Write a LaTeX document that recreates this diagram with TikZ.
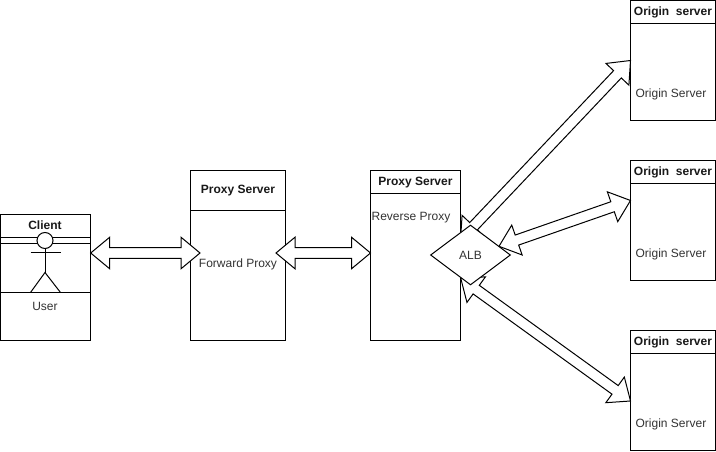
\documentclass[tikz,border=0pt]{standalone}
\usepackage{fontspec}
\setmainfont{Liberation Sans}
\usetikzlibrary{calc,shapes.geometric}
\tikzset{
  box/.style={draw=black,fill=white,line width=1pt,minimum width=0pt},
  lbl/.style={font=\fontsize{12}{14}\selectfont,text=black!80,inner sep=0pt},
  hdr/.style={font=\fontsize{12}{14}\selectfont\bfseries,text=black!90,inner sep=0pt},
  blockarrow/.style={draw=black,fill=white,line width=1pt,line join=miter},
  stick/.style={draw=black,line width=1pt}
}
\newcommand{\blockarr}[2]{%
  \draw[blockarrow] (#1)
   -- ($(#1)!19pt!(#2)!15.8pt!90:(#2)$)
   -- ($(#1)!19pt!(#2)!5.3pt!90:(#2)$)
   -- ($(#2)!19pt!(#1)!5.3pt!-90:(#1)$)
   -- ($(#2)!19pt!(#1)!15.8pt!-90:(#1)$)
   -- (#2)
   -- ($(#2)!19pt!(#1)!15.8pt!90:(#1)$)
   -- ($(#2)!19pt!(#1)!5.3pt!90:(#1)$)
   -- ($(#1)!19pt!(#2)!5.3pt!-90:(#2)$)
   -- ($(#1)!19pt!(#2)!15.8pt!-90:(#2)$)
   -- cycle;}
\begin{document}
\begin{tikzpicture}[x=1pt,y=-1pt]
\useasboundingbox (0,0) rectangle (716,452);
% boxes
\draw[box] (0.5,214.5) rectangle (90.5,340.5);
\draw[stick] (0.5,237.5) -- (90.5,237.5);
\draw[stick] (0.5,243.5) -- (90.5,243.5);
\draw[stick] (0.5,292.5) -- (90.5,292.5);
\node[hdr] (clienttitle) at (45,225.5) {Client};
\node[lbl] (usertext) at (45,306.5) {User};
\draw[box] (45,240.5) circle (8);
\draw[stick] (45,248.5) -- (45,272.5);
\draw[stick] (30.5,252.5) -- (60.5,252.5);
\draw[stick] (30.5,292.5) -- (45,272.5) -- (60.5,292.5);
\draw[box] (190.5,170.5) rectangle (285.5,340.5);
\draw[stick] (190.5,210.5) -- (285.5,210.5);
\node[hdr] (p1title) at (238,191) {Proxy Server};
\node[lbl] (p1text) at (238,264.5) {Forward Proxy};
\draw[box] (370.5,170.5) rectangle (460.5,340.5);
\draw[stick] (370.5,193.5) -- (460.5,193.5);
\node[hdr] (p2title) at (415.5,183) {Proxy Server};
\node[lbl] (p2text) at (411,218) {Reverse Proxy};
\foreach \n/\y in {a/0,b/160,c/330}{
  \draw[box] (630.5,\y+0.5) rectangle (715.5,\y+120.5);
  \draw[stick] (630.5,\y+23.5) -- (715.5,\y+23.5);
  \node[hdr] (o\n title) at (673,\y+12.5) {Origin\ \ server};
  \node[lbl] (o\n text) at (671,\y+94) {Origin Server};
}
% connector ends
\coordinate (c1) at (90.7,253);
\coordinate (p1l) at (200,253);
\coordinate (p1r) at (276,253);
\coordinate (p2l) at (370.5,253);
\coordinate (albt) at (460.5,240);
\coordinate (albr) at (499,246.3);
\coordinate (albb) at (460.8,278.5);
\coordinate (oa) at (630.5,60.5);
\coordinate (ob) at (630.5,200.5);
\coordinate (oc) at (630.5,401);
\blockarr{c1}{p1l}
\blockarr{p1r}{p2l}
\blockarr{albt}{oa}
\blockarr{albr}{ob}
\blockarr{albb}{oc}
\node[diamond,draw=black,fill=white,line width=1pt,minimum width=80pt,minimum height=60pt,inner sep=0pt,aspect=1.333] (alb) at (470.5,255) {};
\node[lbl] at ($(alb)+(0,0.5)$) {ALB};
\end{tikzpicture}
\end{document}
